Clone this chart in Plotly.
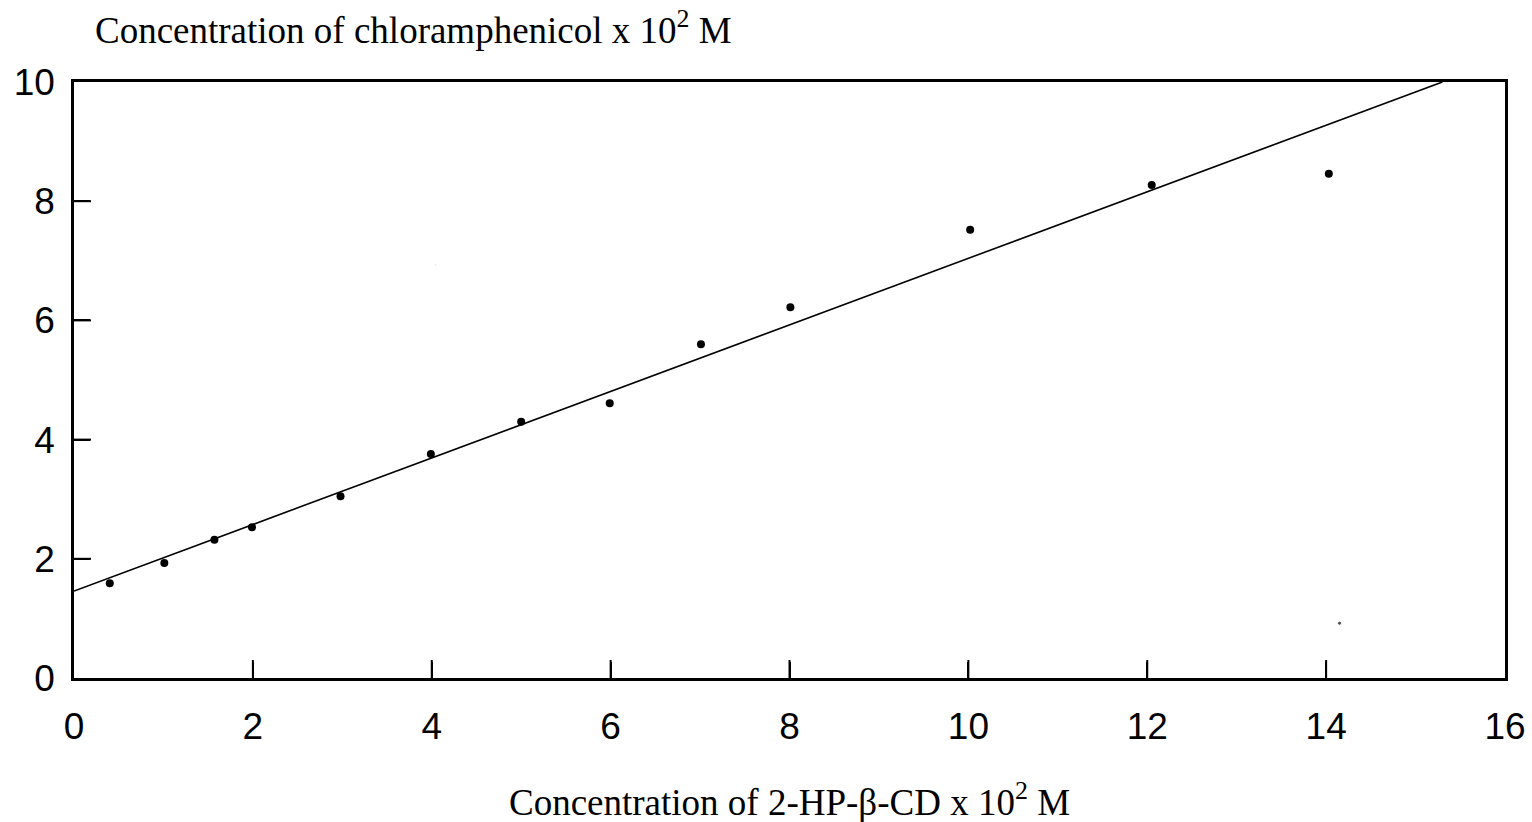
import plotly.graph_objects as go

# Measured data (concentration x 10^2 M)
hp_cd = [0.40, 1.01, 1.57, 1.99, 2.98, 3.99, 5.0, 5.99, 7.01, 8.01, 10.02, 12.05, 14.03]
chloramphenicol = [1.59, 1.93, 2.32, 2.53, 3.05, 3.76, 4.30, 4.61, 5.60, 6.22, 7.52, 8.27, 8.46]

# Regression line endpoints as drawn
fit_x = [0.0, 15.3]
fit_y = [1.46, 10.0]

# Stray scan specks
speck_x = [14.15, 4.04]
speck_y = [0.92, 6.93]

x_ticks = [0, 2, 4, 6, 8, 10, 12, 14, 16]
y_ticks = [0, 2, 4, 6, 8, 10]

fig = go.Figure()
fig.add_trace(go.Scatter(x=fit_x, y=fit_y, mode="lines",
                         line=dict(color="black", width=1.6), showlegend=False))
fig.add_trace(go.Scatter(x=hp_cd, y=chloramphenicol, mode="markers",
                         marker=dict(color="black", size=8), showlegend=False))
fig.add_trace(go.Scatter(x=speck_x, y=speck_y, mode="markers",
                         marker=dict(color=["black", "#bbbbbb"], size=[4, 2]), showlegend=False))

# inner tick marks drawn as pixel-sized shapes anchored at each tick value
for v in x_ticks[1:-1]:
    fig.add_shape(type="line", xref="x", yref="y", x0=v, x1=v,
                  ysizemode="pixel", yanchor=y_ticks[0], y0=0, y1=18,
                  line=dict(color="black", width=2))
for v in y_ticks[1:-1]:
    fig.add_shape(type="line", xref="x", yref="y", y0=v, y1=v,
                  xsizemode="pixel", xanchor=x_ticks[0], x0=0, x1=17,
                  line=dict(color="black", width=2))

axis_common = dict(showline=True, linecolor="black", linewidth=2.5, mirror=True,
                   showgrid=False, zeroline=False, ticks="inside", ticklen=16,
                   tickwidth=2, tickcolor="black", automargin=False,
                   tickfont=dict(family="Liberation Sans, Arial", size=37, color="black"))

fig.update_layout(
    width=1532, height=822,
    margin=dict(l=74, r=27, t=82, b=144),
    paper_bgcolor="white", plot_bgcolor="white",
    xaxis=dict(range=[0, 16], tickvals=x_ticks, ticktext=[str(v) for v in x_ticks],
               ticklabelstandoff=14, **axis_common),
    yaxis=dict(range=[0, 10], tickvals=y_ticks, ticktext=[str(v) for v in y_ticks],
               ticklabelstandoff=9, **axis_common),
    annotations=[
        dict(text="Concentration of chloramphenicol x 10<sup>2</sup> M",
             xref="paper", yref="paper", x=0.0135, y=1.0, xanchor="left", yanchor="bottom",
             yshift=29, showarrow=False,
             font=dict(family="Liberation Serif, Times New Roman", size=37, color="black")),
        dict(text="Concentration of 2-HP-β-CD x 10<sup>2</sup> M",
             xref="paper", yref="paper", x=0.5, y=0.0, xanchor="center", yanchor="top",
             yshift=-96, showarrow=False,
             font=dict(family="Liberation Serif, Times New Roman", size=37, color="black")),
    ],
)

fig.write_html("out.html")
